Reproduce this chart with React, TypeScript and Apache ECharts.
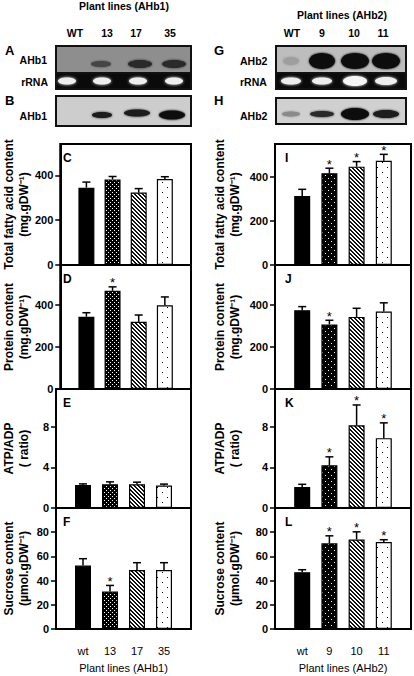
import React, { useEffect, useRef } from 'react';
import * as echarts from 'echarts';

const FONT = '"Liberation Sans", Arial, Helvetica, sans-serif';

// Categories
const linesAHb1 = ['wt', '13', '17', '35'];
const linesAHb2 = ['wt', '9', '10', '11'];
const blotLanes1 = ['WT', '13', '17', '35'];
const blotLanes2 = ['WT', '9', '10', '11'];

// AHb1 series
const fattyAcid1 = [345, 382, 323, 384];
const fattyAcid1Err = [25, 13, 18, 10];
const fattyAcid1Sig = [0, 0, 0, 0];
const protein1 = [344, 467, 320, 398];
const protein1Err = [19, 19, 32, 40];
const protein1Sig = [0, 1, 0, 0];
const atpAdp1 = [2.27, 2.34, 2.34, 2.2];
const atpAdp1Err = [0.1, 0.23, 0.2, 0.15];
const atpAdp1Sig = [0, 0, 0, 0];
const sucrose1 = [52.4, 31, 48.8, 48.8];
const sucrose1Err = [5.7, 5, 6, 6];
const sucrose1Sig = [0, 1, 0, 0];

// AHb2 series
const fattyAcid2 = [314, 417, 447, 474];
const fattyAcid2Err = [30, 23, 23, 29];
const fattyAcid2Sig = [0, 1, 1, 1];
const protein2 = [375, 307, 343, 369];
const protein2Err = [17, 20, 41, 41];
const protein2Sig = [0, 1, 0, 0];
const atpAdp2 = [2.07, 4.2, 8.13, 6.87];
const atpAdp2Err = [0.26, 0.83, 2.0, 1.5];
const atpAdp2Sig = [0, 1, 1, 1];
const sucrose2 = [47, 70.8, 74, 71.8];
const sucrose2Err = [2, 6.2, 6.3, 2];
const sucrose2Sig = [0, 1, 1, 1];

// Tick labels
const ticksContent = [0, 200, 400];
const ticksRatio = [0, 4, 8];
const ticksSucrose = [0, 20, 40, 60, 80];

function makeTile(size: number, bg: string, fg: string, pts: number[][], dot = 1) {
  const c = document.createElement('canvas');
  c.width = size;
  c.height = size;
  const ctx = c.getContext('2d')!;
  ctx.fillStyle = bg;
  ctx.fillRect(0, 0, size, size);
  ctx.fillStyle = fg;
  pts.forEach(([x, y]) => ctx.fillRect(x, y, dot, dot));
  return { image: c, repeat: 'repeat', imageWidth: size, imageHeight: size } as any;
}

export default function App() {
  const ref = useRef<HTMLDivElement>(null);
  useEffect(() => {
    if (!ref.current) return;
    const chart = echarts.init(ref.current, null, { renderer: 'svg' });

    const pDots1 = makeTile(4, '#000', '#fff', [[0, 0], [2, 2]]);
    const pDots2 = makeTile(6, '#000', '#fff', [[1, 1], [4, 4]]);
    const pHatch = makeTile(4, '#fff', '#111', [[0, 0], [1, 0], [1, 1], [2, 1], [2, 2], [3, 2], [3, 3], [0, 3]]);
    const pSparse = makeTile(10, '#fff', '#000', [[2, 2], [7, 7]]);
    const fills1 = ['#000', pDots1, pHatch, pSparse];
    const fills2 = ['#000', pDots2, pHatch, pSparse];

    const rows = [
      { top: 144, h: 121, max1: 540, max2: 550, ticks: ticksContent, name: 'Total fatty acid content\n(mg.gDW\u207B\u00B9)', letters: ['C', 'I'] },
      { top: 265, h: 124, max1: 590, max2: 590, ticks: ticksContent, name: 'Protein content\n(mg.gDW\u207B\u00B9)', letters: ['D', 'J'] },
      { top: 389, h: 119, max1: 11.7, max2: 11.7, ticks: ticksRatio, name: 'ATP/ADP\n( ratio)', letters: ['E', 'K'] },
      { top: 508, h: 121, max1: 100, max2: 100, ticks: ticksSucrose, name: 'Sucrose content\n(\u00B5mol.gDW\u207B\u00B9)', letters: ['F', 'L'] },
    ];
    const data1 = [
      [fattyAcid1, fattyAcid1Err, fattyAcid1Sig],
      [protein1, protein1Err, protein1Sig],
      [atpAdp1, atpAdp1Err, atpAdp1Sig],
      [sucrose1, sucrose1Err, sucrose1Sig],
    ];
    const data2 = [
      [fattyAcid2, fattyAcid2Err, fattyAcid2Sig],
      [protein2, protein2Err, protein2Sig],
      [atpAdp2, atpAdp2Err, atpAdp2Sig],
      [sucrose2, sucrose2Err, sucrose2Sig],
    ];

    const grid: any[] = [];
    const xAxis: any[] = [];
    const yAxis: any[] = [];
    const series: any[] = [];
    const graphic: any[] = [];

    const cols = [
      { left: 53, width: 138, data: data1, fills: fills1, cats: linesAHb1, xname: 'Plant lines (AHb1)', nameGap: 25, maxKey: 'max1' },
      { left: 275, width: 136, data: data2, fills: fills2, cats: linesAHb2, xname: 'Plant lines (AHb2)', nameGap: 33, maxKey: 'max2' },
    ];

    let idx = 0;
    cols.forEach((col, ci) => {
      rows.forEach((row, ri) => {
        const last = ri === rows.length - 1;
        grid.push({
          left: col.left, top: row.top, width: col.width, height: row.h,
          show: true, borderColor: '#000', borderWidth: 2, backgroundColor: 'transparent',
        });
        xAxis.push({
          gridIndex: idx, type: 'value', min: -1, max: 4, position: 'bottom',
          axisLine: { show: false, onZero: false }, axisTick: { show: false }, splitLine: { show: false },
          axisLabel: {
            show: last, customValues: [0, 1, 2, 3], margin: 16,
            formatter: (v: number) => col.cats[Math.round(v)] ?? '',
            fontFamily: FONT, fontSize: 11, color: '#000',
          },
          name: last ? col.xname : '', nameLocation: 'middle', nameGap: 33,
          nameTextStyle: { fontFamily: FONT, fontSize: 11, color: '#000' },
        });
        yAxis.push({
          gridIndex: idx, type: 'value', min: 0, max: (row as any)[col.maxKey], position: 'left',
          axisLine: { show: true, onZero: false, lineStyle: { color: '#000', width: 2 } },
          axisTick: { show: true, inside: false, length: 5, customValues: row.ticks, lineStyle: { color: '#000', width: 1.5 } },
          axisLabel: { customValues: row.ticks, margin: 7, fontFamily: FONT, fontSize: 11, fontWeight: 'bold', color: '#000' },
          splitLine: { show: false },
          name: row.name, nameLocation: 'middle', nameRotate: 90, nameGap: col.nameGap,
          nameTextStyle: { fontFamily: FONT, fontSize: 12, fontWeight: 'bold', color: '#000', lineHeight: 15, align: 'center' },
        });
        const [vals, errs, sigs] = col.data[ri] as number[][];
        series.push({
          type: 'bar', xAxisIndex: idx, yAxisIndex: idx, barWidth: 16, z: 2,
          itemStyle: { borderColor: '#000', borderWidth: 1.2 },
          data: vals.map((v: number, j: number) => ({ value: [j, v], itemStyle: { color: col.fills[j] } })),
        });
        series.push({
          type: 'custom', xAxisIndex: idx, yAxisIndex: idx, z: 3,
          encode: { x: 0, y: 1 },
          data: vals.map((v: number, j: number) => [j, v + errs[j]]),
          renderItem: (params: any, api: any) => {
            const j = params.dataIndex;
            const p0 = api.coord([j, vals[j]]);
            const p1 = api.coord([j, vals[j] + errs[j]]);
            const children: any[] = [
              { type: 'line', shape: { x1: p0[0], y1: p0[1], x2: p1[0], y2: p1[1] }, style: { stroke: '#000', lineWidth: 1.5 } },
              { type: 'line', shape: { x1: p1[0] - 4, y1: p1[1], x2: p1[0] + 4, y2: p1[1] }, style: { stroke: '#000', lineWidth: 1.5 } },
            ];
            if (sigs[j]) {
              children.push({
                type: 'text', x: p1[0], y: p1[1] - 4,
                style: { text: '*', fontSize: 13, fontFamily: FONT, fill: '#000', align: 'center', verticalAlign: 'middle' },
              });
            }
            return { type: 'group', children };
          },
        });
        graphic.push({
          type: 'text', left: col.left + 10, top: row.top + 8,
          style: { text: row.letters[ci], fontFamily: FONT, fontSize: 12, fontWeight: 'bold', fill: '#000' },
        });
        idx++;
      });
    });

    const txt = (text: string, x: number, y: number, align: string, size = 10.5, bold = true) => ({
      type: 'text', x, y,
      style: { text, x: 0, y: 0, align, verticalAlign: 'middle', fontFamily: FONT, fontSize: size, fontWeight: bold ? 'bold' : 'normal', fill: '#000' },
    });
    const rect = (x: number, y: number, w: number, h: number, fill: string) => ({ type: 'rect', shape: { x, y, width: w, height: h }, style: { fill } });
    const band = (cx: number, cy: number, rx: number, ry: number, fill: string, blur = 2) => ({
      type: 'ellipse', shape: { cx, cy, rx, ry }, style: { fill, shadowBlur: blur, shadowColor: fill },
    });

    // Titles and lane labels
    graphic.push(txt('Plant lines (AHb1)', 124, 6, 'center'));
    graphic.push(txt('Plant lines (AHb2)', 342, 15, 'center'));
    const laneX1 = [75, 107, 136, 170];
    const laneX2 = [292, 322, 354, 383];
    blotLanes1.forEach((l, i) => graphic.push(txt(l, laneX1[i], 33, 'center')));
    blotLanes2.forEach((l, i) => graphic.push(txt(l, laneX2[i], 33, 'center')));

    // Gel A
    graphic.push(rect(55, 45, 137, 45, '#111'));
    graphic.push(rect(57, 47, 133, 25, '#8e8e8e'));
    graphic.push(band(101, 64, 10, 3, '#444'));
    graphic.push(band(140, 64, 12, 4, '#2a2a2a'));
    graphic.push(band(174, 64, 12, 4, '#2a2a2a'));
    graphic.push(rect(57, 74, 133, 14, '#0a0a0a'));
    [67, 102, 138, 174].forEach((cx) => graphic.push(band(cx, 81, 9, 3.5, '#eeeeee', 3)));
    // Gel B
    graphic.push(rect(55, 95, 137, 32, '#111'));
    graphic.push(rect(57, 97, 133, 28, '#cdcdcd'));
    graphic.push(band(102, 115, 10, 3, '#1a1a1a'));
    graphic.push(band(137, 113, 13, 3.5, '#1a1a1a'));
    graphic.push(band(172, 115, 13, 4.5, '#111'));
    // Gel G
    graphic.push(rect(275, 45, 132, 45, '#111'));
    graphic.push(rect(277, 47, 128, 25, '#bdbdbd'));
    graphic.push(band(291, 61, 8, 4, '#9e9e9e', 3));
    graphic.push(band(322, 61, 13, 8, '#080808'));
    graphic.push(band(355, 61, 14, 8, '#080808'));
    graphic.push(band(386, 61, 14, 8, '#080808'));
    graphic.push(rect(277, 74, 128, 14, '#0a0a0a'));
    graphic.push(band(291, 81, 10, 3.5, '#eeeeee', 3));
    graphic.push(band(322, 81, 10, 3.5, '#eeeeee', 3));
    graphic.push(band(355, 81, 12, 5, '#f5f5f5', 3));
    graphic.push(band(386, 81, 11, 4, '#eeeeee', 3));
    // Gel H
    graphic.push(rect(275, 97, 132, 28, '#111'));
    graphic.push(rect(277, 99, 128, 24, '#d0d0d0'));
    graphic.push(band(291, 114, 9, 2.5, '#8a8a8a'));
    graphic.push(band(322, 114, 12, 3, '#2a2a2a'));
    graphic.push(band(355, 114, 14, 6, '#0a0a0a'));
    graphic.push(band(386, 114, 13, 4, '#1a1a1a'));

    // Gel labels
    graphic.push(txt('A', 5, 50, 'left', 13));
    graphic.push(txt('AHb1', 47, 60, 'right'));
    graphic.push(txt('rRNA', 48, 82, 'right'));
    graphic.push(txt('B', 5, 100, 'left', 13));
    graphic.push(txt('AHb1', 47, 116, 'right'));
    graphic.push(txt('G', 214, 50, 'left', 13));
    graphic.push(txt('AHb2', 240, 61, 'left'));
    graphic.push(txt('rRNA', 240, 82, 'left'));
    graphic.push(txt('H', 214, 100, 'left', 13));
    graphic.push(txt('AHb2', 240, 116, 'left'));

    chart.setOption({
      animation: false,
      backgroundColor: '#fff',
      grid, xAxis, yAxis, series, graphic,
    });
    return () => chart.dispose();
  }, []);
  return <div ref={ref} style={{ position: 'fixed', left: 0, top: 0, width: 414, height: 676 }} />;
}
